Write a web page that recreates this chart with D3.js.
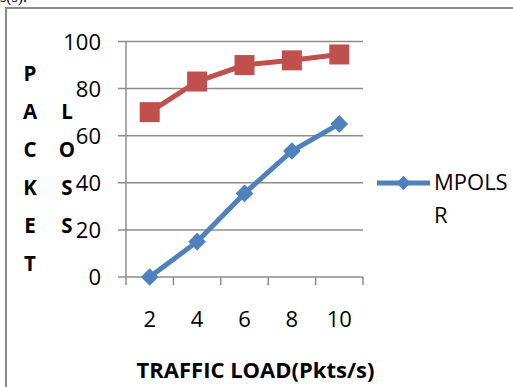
<!DOCTYPE html>
<html>
<head>
<meta charset="utf-8">
<script src="https://cdn.jsdelivr.net/npm/d3@7"></script>
<style>
  body { margin: 0; background: #fff; }
  svg { display: block; font-family: "Open Sans", "Liberation Sans", Arial, sans-serif; }
</style>
</head>
<body>
<div id="chart"></div>
<script>
// packet loss vs traffic load

var loads = ["2", "4", "6", "8", "10"];
var mpolsr = [0, 15, 35.5, 53.5, 65];
var redSeries = [70, 83, 90, 92, 94.5];
var yTicks = [0, 20, 40, 60, 80, 100];
var yTitle1 = ["P", "A", "C", "K", "E", "T"];
var yTitle2 = ["L", "O", "S", "S"];

var W = 513, H = 387;
var svg = d3.select("#chart").append("svg")
    .attr("width", W)
    .attr("height", H);

// text above the chart frame (cut off in the original too)
svg.append("text")
    .attr("x", 0).attr("y", 2)
    .style("font-family", "Liberation Serif, serif")
    .style("font-size", "16px")
    .text("s(s).");

// chart frame, runs off the right and bottom edge
svg.append("rect")
    .attr("x", 6).attr("y", 8)
    .attr("width", 540).attr("height", 400)
    .attr("fill", "none")
    .attr("stroke", "#8a8a8a")
    .attr("stroke-width", 2);

var x = d3.scaleBand().domain(loads).range([126, 363]);
var y = d3.scaleLinear().domain([0, 100]).range([277, 41.5]);

// gridlines
svg.append("g").selectAll("line")
    .data(yTicks)
    .join("line")
    .attr("x1", 118).attr("x2", 363)
    .attr("y1", d => y(d)).attr("y2", d => y(d))
    .attr("stroke", "#8c8c8c")
    .attr("stroke-width", 1.5);

// y axis line
svg.append("line")
    .attr("x1", 126).attr("x2", 126)
    .attr("y1", y(100)).attr("y2", y(0) + 8)
    .attr("stroke", "#8c8c8c")
    .attr("stroke-width", 1.5);

// x ticks on category boundaries
var bounds = loads.map(d => x(d) + x.bandwidth());
svg.append("g").selectAll("line")
    .data(bounds)
    .join("line")
    .attr("x1", d => d).attr("x2", d => d)
    .attr("y1", y(0)).attr("y2", y(0) + 8)
    .attr("stroke", "#8c8c8c")
    .attr("stroke-width", 1.5);

// y tick labels
svg.append("g").selectAll("text")
    .data(yTicks)
    .join("text")
    .attr("x", 101)
    .attr("y", d => y(d) + 8)
    .attr("text-anchor", "end")
    .style("font-size", "22px")
    .text(d => d);

// x tick labels
svg.append("g").selectAll("text")
    .data(loads)
    .join("text")
    .attr("x", d => x(d) + x.bandwidth() / 2)
    .attr("y", 327)
    .attr("text-anchor", "middle")
    .style("font-size", "22px")
    .text(d => d);

// axis titles
svg.append("text")
    .attr("x", 255.5).attr("y", 378)
    .attr("text-anchor", "middle")
    .style("font-size", "22px")
    .style("font-weight", "bold")
    .text("TRAFFIC LOAD(Pkts/s)");

svg.append("g").selectAll("text")
    .data(yTitle1)
    .join("text")
    .attr("x", 30)
    .attr("y", (d, i) => 81 + i * 38)
    .attr("text-anchor", "middle")
    .style("font-size", "20.5px")
    .style("font-weight", "bold")
    .text(d => d);

svg.append("g").selectAll("text")
    .data(yTitle2)
    .join("text")
    .attr("x", 67)
    .attr("y", (d, i) => 119 + i * 38)
    .attr("text-anchor", "middle")
    .style("font-size", "20.5px")
    .style("font-weight", "bold")
    .text(d => d);

var cx = (d, i) => x(loads[i]) + x.bandwidth() / 2;
var line = d3.line().x(cx).y(d => y(d));

// red series
svg.append("path")
    .datum(redSeries)
    .attr("d", line)
    .attr("fill", "none")
    .attr("stroke", "#c0504d")
    .attr("stroke-width", 5);

svg.append("g").selectAll("rect")
    .data(redSeries)
    .join("rect")
    .attr("x", (d, i) => cx(d, i) - 10)
    .attr("y", d => y(d) - 10)
    .attr("width", 20).attr("height", 20)
    .attr("fill", "#c0504d");

// MPOLSR series
svg.append("path")
    .datum(mpolsr)
    .attr("d", line)
    .attr("fill", "none")
    .attr("stroke", "#4f81bd")
    .attr("stroke-width", 5);

var diamond = d3.symbol().type(d3.symbolDiamond2);
svg.append("g").selectAll("path")
    .data(mpolsr)
    .join("path")
    .attr("transform", (d, i) => "translate(" + cx(d, i) + "," + y(d) + ")")
    .attr("d", diamond.size(200))
    .attr("fill", "#4f81bd");

// legend
var lg = svg.append("g").attr("transform", "translate(377,183)");
lg.append("line")
    .attr("x1", 0).attr("x2", 53)
    .attr("stroke", "#4f81bd")
    .attr("stroke-width", 5);
lg.append("path")
    .attr("transform", "translate(26.5,0)")
    .attr("d", d3.symbol().type(d3.symbolDiamond2).size(130)())
    .attr("fill", "#4f81bd");
lg.append("text")
    .attr("x", 57).attr("y", 7)
    .style("font-size", "22px")
    .text("MPOLS");
lg.append("text")
    .attr("x", 57).attr("y", 40)
    .style("font-size", "22px")
    .text("R");
</script>
</body>
</html>
